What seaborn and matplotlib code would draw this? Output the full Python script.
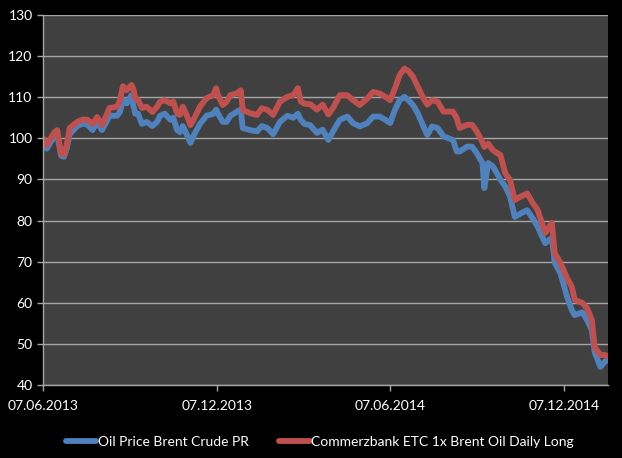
import matplotlib
matplotlib.use("Agg")
import matplotlib.pyplot as plt
import matplotlib.dates as mdates
import pandas as pd
import seaborn as sns

# Values (approximate)
dates = [
    "2013-06-07", "2013-06-11", "2013-06-19", "2013-06-22", "2013-06-26", "2013-06-29",
    "2013-07-02", "2013-07-05", "2013-07-13", "2013-07-19", "2013-07-24", "2013-07-29",
    "2013-08-03", "2013-08-08", "2013-08-16", "2013-08-24", "2013-08-27", "2013-08-30",
    "2013-09-03", "2013-09-08", "2013-09-10", "2013-09-12", "2013-09-15", "2013-09-19",
    "2013-09-24", "2013-09-30", "2013-10-05", "2013-10-08", "2013-10-13", "2013-10-19",
    "2013-10-22", "2013-10-26", "2013-10-29", "2013-11-01", "2013-11-05", "2013-11-09",
    "2013-11-12", "2013-11-19", "2013-11-26", "2013-12-03", "2013-12-06", "2013-12-08",
    "2013-12-13", "2013-12-17", "2013-12-21", "2013-12-28", "2014-01-01", "2014-01-03",
    "2014-01-11", "2014-01-18", "2014-01-23", "2014-01-29", "2014-02-04", "2014-02-11",
    "2014-02-19", "2014-02-25", "2014-03-02", "2014-03-05", "2014-03-09", "2014-03-15",
    "2014-03-22", "2014-03-28", "2014-04-03", "2014-04-08", "2014-04-15", "2014-04-23",
    "2014-04-29", "2014-05-06", "2014-05-14", "2014-05-20", "2014-05-27", "2014-06-02",
    "2014-06-07", "2014-06-12", "2014-06-17", "2014-06-22", "2014-06-26", "2014-07-01",
    "2014-07-06", "2014-07-12", "2014-07-16", "2014-07-21", "2014-07-27", "2014-08-02",
    "2014-08-12", "2014-08-16", "2014-08-19", "2014-08-27", "2014-09-01", "2014-09-06",
    "2014-09-12", "2014-09-14", "2014-09-18", "2014-09-23", "2014-10-01", "2014-10-06",
    "2014-10-11", "2014-10-16", "2014-10-22", "2014-10-29", "2014-11-04", "2014-11-09",
    "2014-11-17", "2014-11-24", "2014-11-27", "2014-12-03", "2014-12-10", "2014-12-15",
    "2014-12-18", "2014-12-26", "2014-12-31", "2015-01-05", "2015-01-08", "2015-01-14",
    "2015-01-19", "2015-01-21",
]

brent = [
    99.0, 97.5, 100.5, 101.0, 95.8, 95.5,
    97.5, 101.0, 103.0, 103.6, 103.3, 102.0,
    104.0, 102.0, 105.5, 105.5, 106.5, 109.5,
    108.5, 110.5, 108.0, 106.0, 106.0, 103.5,
    104.0, 103.0, 104.0, 105.5, 106.0, 104.5,
    105.0, 102.0, 101.5, 103.0, 101.0, 98.9,
    100.5, 103.5, 105.5, 106.0, 107.0, 106.0,
    104.0, 104.0, 105.5, 106.5, 107.0, 102.5,
    102.0, 101.7, 103.0, 102.5, 101.0, 104.0,
    105.5, 105.0, 106.0, 104.5, 103.5, 103.2,
    101.3, 102.1, 99.6, 101.7, 104.5, 105.3,
    103.7, 102.9, 103.7, 105.3, 105.3, 104.5,
    103.7, 106.9, 109.3, 110.1, 109.3, 108.1,
    106.1, 102.9, 100.8, 102.9, 102.5, 100.5,
    99.6, 96.8, 96.8, 98.0, 98.0, 96.4,
    94.0, 87.9, 94.0, 93.2, 89.9, 88.3,
    85.9, 80.9, 81.7, 82.5, 80.5, 78.5,
    74.5, 75.8, 69.7, 67.2, 61.4, 58.2,
    57.0, 57.7, 55.8, 53.4, 48.0, 44.4,
    45.8, 46.0,
]

etc = [
    100.0, 98.4, 101.5, 102.0, 96.4, 96.0,
    98.4, 102.5, 104.0, 104.6, 104.5, 103.5,
    105.2, 103.2, 107.4, 107.7, 109.3, 112.7,
    111.7, 113.0, 112.0, 109.8, 109.3, 107.4,
    107.7, 106.4, 107.7, 108.9, 109.3, 108.5,
    109.0, 106.0, 105.7, 107.7, 105.7, 103.2,
    104.4, 107.7, 109.8, 110.5, 112.2, 110.5,
    108.1, 108.9, 110.5, 111.0, 111.7, 106.9,
    106.1, 105.7, 107.3, 106.9, 105.7, 108.9,
    110.1, 110.5, 112.2, 109.0, 108.4, 108.3,
    107.0, 108.2, 105.8, 107.4, 110.5, 110.5,
    109.3, 108.1, 109.7, 111.3, 110.9, 110.1,
    109.3, 112.2, 115.4, 117.0, 116.4, 115.0,
    112.6, 109.7, 108.2, 109.3, 108.9, 106.5,
    106.5, 104.9, 102.5, 103.3, 103.3, 101.7,
    99.1, 97.9, 98.7, 97.1, 95.9, 91.5,
    89.9, 85.0, 85.8, 86.6, 84.2, 82.6,
    77.0, 79.4, 72.1, 69.7, 66.0, 63.8,
    60.7, 60.0, 58.7, 55.8, 49.2, 47.3,
    47.3, 47.0,
]

series_names = ["Oil Price Brent Crude PR", "Commerzbank ETC 1x Brent Oil Daily Long"]
colors = ["#4F81BD", "#C0504D"]
tick_dates = ["2013-06-07", "2013-12-07", "2014-06-07", "2014-12-07"]

df = pd.concat([
    pd.DataFrame({"date": pd.to_datetime(dates), "value": brent, "series": series_names[0]}),
    pd.DataFrame({"date": pd.to_datetime(dates), "value": etc, "series": series_names[1]}),
])

sns.set_theme(style="dark")
plt.rcParams["font.family"] = ["Lato", "DejaVu Sans"]

fig = plt.figure(figsize=(6.22, 4.58), dpi=100, facecolor="black")
ax = fig.add_axes([0.0691, 0.1594, 0.9084, 0.8078])
ax.set_facecolor("#404040")

sns.lineplot(data=df, x="date", y="value", hue="series", palette=colors,
             linewidth=4.2, ax=ax)

ax.set_ylim(40, 130)
ax.set_yticks(range(40, 131, 10))
ax.set_xlim(pd.Timestamp("2013-06-07"), pd.Timestamp("2015-01-22"))
ax.set_xticks(pd.to_datetime(tick_dates))
ax.xaxis.set_major_formatter(mdates.DateFormatter("%d.%m.%Y"))
ax.set_xlabel("")
ax.set_ylabel("")

ax.grid(axis="y", color="#A6A6A6", linewidth=1)
ax.grid(axis="x", visible=False)
ax.set_axisbelow(True)
for side in ["top", "right"]:
    ax.spines[side].set_visible(False)
for side in ["left", "bottom"]:
    ax.spines[side].set_color("#A6A6A6")
    ax.spines[side].set_linewidth(1)
ax.tick_params(axis="both", colors="#A6A6A6", labelcolor="white", labelsize=10,
               length=4, width=1, direction="out", left=True, bottom=True)
ax.tick_params(axis="x", pad=7)

ax.legend(loc="upper center", bbox_to_anchor=(0.49, -0.105), ncol=2, frameon=False,
          labelcolor="white", fontsize=10, handlelength=2.2, handletextpad=0.1,
          columnspacing=2.2)

fig.savefig("out.png", dpi=100, facecolor="black")
plt.close(fig)
